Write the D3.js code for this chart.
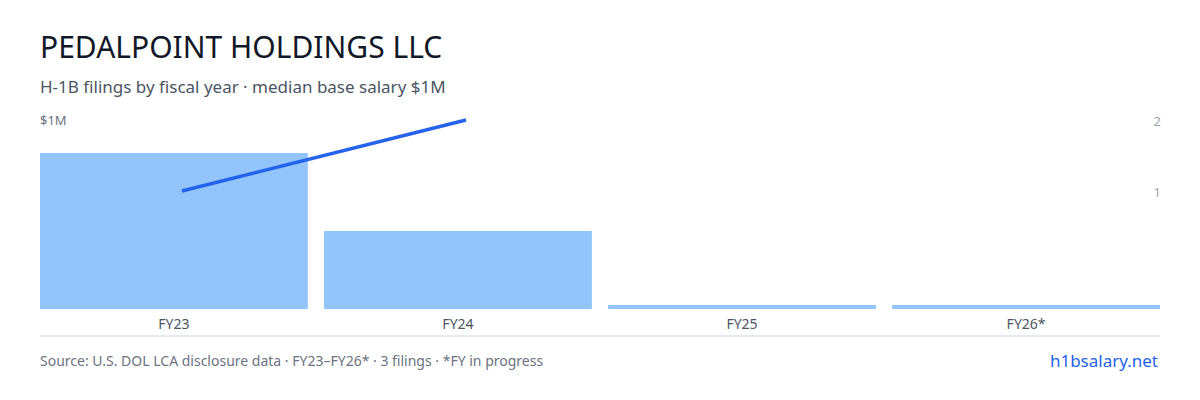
<!DOCTYPE html>
<html><head><meta charset="utf-8">
<script src="https://cdn.jsdelivr.net/npm/d3@7"></script>
<style>body{margin:0;background:#fff;font-family:"Noto Sans",sans-serif}</style>
</head><body><svg id="c" width="1200" height="400"></svg>
<script>
const categories = ["FY23","FY24","FY25","FY26*"];
const filings = [2,1,0,0];
const salaryLine = [1,2];   // line values on right axis, FY23–FY24
const rightTicks = [1,2];

const svg = d3.select("#c");
svg.append("text").attr("x",40).attr("y",58).attr("font-size",30).attr("fill","#111827").text("PEDALPOINT HOLDINGS LLC");
svg.append("text").attr("x",40).attr("y",93).attr("font-size",17).attr("fill","#4b5563").text("H-1B filings by fiscal year · median base salary $1M");
svg.append("text").attr("x",40).attr("y",125).attr("font-size",13).attr("fill","#6b7280").text("$1M");

const x = d3.scaleBand().domain(categories).range([40,1160]).paddingInner(0.057).paddingOuter(0);
const y = d3.scaleLinear().domain([0,2]).range([309,153]);
const yr = d3.scaleLinear().domain([1,2]).range([191,120]);

svg.selectAll("rect.b").data(filings).join("rect")
  .attr("x",(d,i)=>x(categories[i])).attr("width",x.bandwidth())
  .attr("y",d=>Math.min(y(d),305)).attr("height",d=>Math.max(309-y(d),4))
  .attr("fill","#93c5fd");

const ra = svg.append("g").attr("transform","translate(1158,0)")
  .call(d3.axisRight(yr).tickValues(rightTicks).tickSize(0).tickFormat(d3.format("d")));
ra.select(".domain").remove();
ra.selectAll("text").attr("font-size",13).attr("fill","#9ca3af").attr("font-family","Noto Sans").attr("text-anchor","end").attr("dy","0.4em");

const line = d3.line().x((d,i)=>x(categories[i])+x.bandwidth()/2+8).y(d=>yr(d));
svg.append("path").datum(salaryLine).attr("d",line).attr("fill","none").attr("stroke","#2563eb").attr("stroke-width",3.5);

const xa = svg.append("g").attr("transform","translate(0,309)")
  .call(d3.axisBottom(x).tickSize(0).tickPadding(10));
xa.select(".domain").remove();
xa.selectAll("text").attr("font-size",14).attr("fill","#4b5563").attr("font-family","Noto Sans");
svg.append("line").attr("x1",40).attr("x2",1160).attr("y1",336).attr("y2",336).attr("stroke","#d1d5db");

svg.append("text").attr("x",40).attr("y",366).attr("font-size",14).attr("fill","#6b7280").text("Source: U.S. DOL LCA disclosure data · FY23–FY26* · 3 filings · *FY in progress");
svg.append("text").attr("x",1158).attr("y",367).attr("font-size",17).attr("fill","#2563eb").attr("text-anchor","end").text("h1bsalary.net");
</script></body></html>
